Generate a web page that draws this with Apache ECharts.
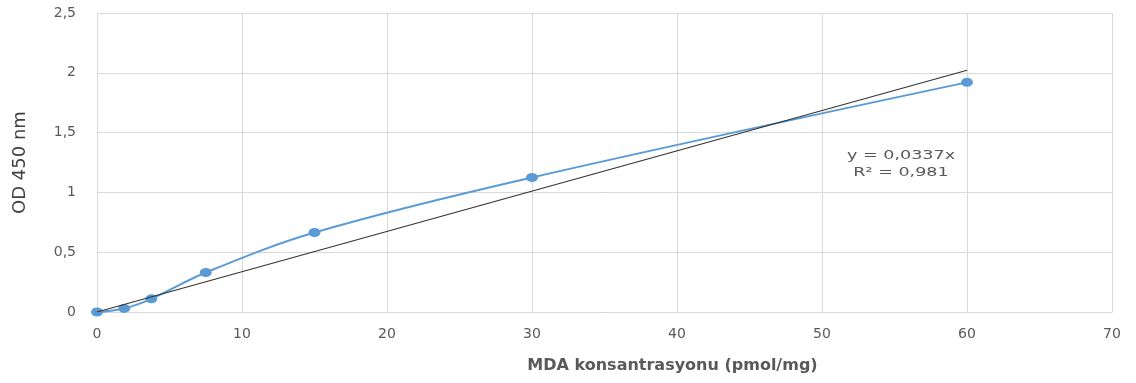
<!DOCTYPE html>
<html>
<head>
<meta charset="utf-8">
<script src="https://cdn.jsdelivr.net/npm/echarts@6/dist/echarts.min.js"></script>
<style>
  html, body { margin: 0; padding: 0; background: #ffffff; }
  #chart { width: 1136px; height: 383px; }
</style>
</head>
<body>
<div id="chart"></div>
<script>
// MDA standard curve: concentration (pmol/mg) vs optical density at 450 nm
const concentrations = [0, 1.875, 3.75, 7.5, 15, 30, 60];
const odValues = [0, 0.03, 0.11, 0.33, 0.665, 1.125, 1.92];

// Linear trendline through the origin
const slope = 0.0337;
const rSquared = 0.981;
const trendX = [0, 60];

const xTicks = { min: 0, max: 70, interval: 10 };
const yTicks = { min: 0, max: 2.5, interval: 0.5 };

const fmt = (v) => String(v).replace('.', ',');

const chart = echarts.init(document.getElementById('chart'), null, { renderer: 'canvas' });

const labelColor = '#595959';
const gridColor = '#d9d9d9';
const font = 'DejaVu Sans';
// slightly wide oval marker
const markerPath = 'path://M0,4.5A6,4.5,0,1,1,12,4.5A6,4.5,0,1,1,0,4.5Z';

chart.setOption({
  animation: false,
  grid: { left: 97, right: 24, top: 13, bottom: 71, containLabel: false },
  xAxis: {
    type: 'value',
    min: xTicks.min, max: xTicks.max, interval: xTicks.interval,
    name: 'MDA konsantrasyonu (pmol/mg)',
    nameLocation: 'middle',
    nameGap: 46,
    nameTextStyle: {
      fontFamily: font, fontWeight: 'bold', fontSize: 16, color: labelColor,
      padding: [0, 0, 0, 136]
    },
    axisLine: { show: true, lineStyle: { color: gridColor } },
    axisTick: { show: false },
    axisLabel: { fontFamily: font, fontSize: 14, color: labelColor, margin: 15, formatter: fmt },
    splitLine: { show: true, lineStyle: { color: gridColor, width: 1 } }
  },
  yAxis: {
    type: 'value',
    min: yTicks.min, max: yTicks.max, interval: yTicks.interval,
    name: 'OD 450 nm',
    nameLocation: 'middle',
    nameGap: 68,
    nameTextStyle: { fontFamily: font, fontSize: 18, color: '#404040', padding: [0, 0, 0, 0] },
    axisLine: { show: true, lineStyle: { color: gridColor } },
    axisTick: { show: false },
    axisLabel: { fontFamily: font, fontSize: 14, color: labelColor, margin: 21, formatter: fmt },
    splitLine: { show: true, lineStyle: { color: gridColor, width: 1 } }
  },
  series: [
    {
      name: 'OD',
      type: 'line',
      data: concentrations.map((c, i) => [c, odValues[i]]),
      smooth: 0.35,
      symbol: markerPath,
      symbolSize: [12, 9],
      lineStyle: { color: '#5b9bd5', width: 2 },
      itemStyle: { color: '#5b9bd5' },
      z: 2
    },
    {
      name: 'Trend',
      type: 'line',
      data: trendX.map((x) => [x, slope * x]),
      symbol: 'none',
      lineStyle: { color: '#333333', width: 1.1 },
      z: 3
    }
  ]
});

// Trendline equation, anchored in data coordinates
const eqPos = chart.convertToPixel({ gridIndex: 0 }, [55.45, 1.24]);
chart.setOption({
  graphic: [{
    type: 'text',
    x: eqPos[0],
    y: eqPos[1],
    scaleX: 1.35,
    style: {
      text: 'y = ' + fmt(slope) + 'x\nR² = ' + fmt(rSquared),
      fontFamily: font,
      fontSize: 13,
      lineHeight: 17,
      fill: labelColor,
      align: 'center',
      verticalAlign: 'middle'
    }
  }]
});
</script>
</body>
</html>
